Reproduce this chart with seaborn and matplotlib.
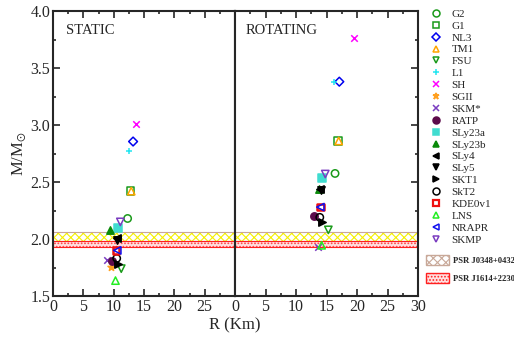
import numpy as np
import pandas as pd
import seaborn as sns
import matplotlib.pyplot as plt
from matplotlib.lines import Line2D
from matplotlib.patches import Patch

# data
models = ['G2', 'G1', 'NL3', 'TM1', 'FSU', 'L1', 'SH', 'SGII', 'SKM*', 'RATP',
          'SLy23a', 'SLy23b', 'SLy4', 'SLy5', 'SKT1', 'SkT2', 'KDE0v1', 'LNS',
          'NRAPR', 'SKMP']
static_R = [12.3, 12.8, 13.2, 12.9, 11.25, 12.5, 13.6, 9.5, 8.95, 9.7,
            10.65, 9.45, 10.5, 10.6, 10.7, 10.5, 10.4, 10.3, 10.6, 11.1]
static_M = [2.18, 2.42, 2.855, 2.42, 1.74, 2.77, 3.01, 1.755, 1.815, 1.805,
            2.10, 2.08, 2.01, 1.99, 1.785, 1.83, 1.90, 1.635, 1.90, 2.15]
rot_R = [16.4, 16.9, 17.1, 17.0, 15.3, 16.3, 19.5, np.nan, 13.6, 13.0,
         14.2, 13.8, 14.0, 14.1, 14.2, 13.9, 14.0, 14.2, 14.0, 14.8]
rot_M = [2.575, 2.86, 3.38, 2.86, 2.08, 3.38, 3.76, np.nan, 1.93, 2.20,
         2.535, 2.44, 2.44, 2.43, 2.15, 2.19, 2.28, 1.945, 2.28, 2.57]
psr_names = ['PSR J0348+0432', 'PSR J1614+2230']
psr_lo = [1.98, 1.93]
psr_hi = [2.06, 1.98]

# styles
colors = ['#1a9a1a', '#1a9a1a', '#0000ee', '#ffa500', '#1a9a1a', '#22e5f0',
          '#ff00ff', '#ffa020', '#7a3cc0', '#5c0a4a', '#40dcd0', '#0a8a0a',
          'black', 'black', 'black', 'black', '#ee1010', '#22ee22', '#1010ee',
          '#7a3cc0']
markers = ['o', 's', 'D', '^', 'v', '+', 'x', '*', 'x', 'o', 's', '^', '<', 'v',
           '>', 'o', 's', '^', '<', 'v']
is_open = [True, True, True, True, True, False, False, False, False, False,
           False, False, False, False, False, True, True, True, True, True]

df = pd.concat([
    pd.DataFrame({'model': models, 'R': static_R, 'M': static_M, 'panel': 'static'}),
    pd.DataFrame({'model': models, 'R': rot_R, 'M': rot_M, 'panel': 'rot'}),
]).dropna()

sns.set_style('ticks')
plt.rcParams['font.family'] = ['Liberation Serif', 'DejaVu Serif']
plt.rcParams['mathtext.fontset'] = 'stix'
plt.rcParams['hatch.linewidth'] = 0.8

fig = plt.figure(figsize=(5.14, 3.38), dpi=100)
axL = fig.add_axes([53 / 514, 1 - 296 / 338, 182 / 514, 285 / 338])
axR = fig.add_axes([235 / 514, 1 - 296 / 338, 183 / 514, 285 / 338])

band_style = [dict(fc='white', hc='#f5f000', ec='#c8a898', hatch='xxxx'),
              dict(fc='#ffe0e0', hc='#ff4040', ec='#ff2020', hatch='.....')]

for ax, panel in [(axL, 'static'), (axR, 'rot')]:
    for lo, hi, st in zip(psr_lo, psr_hi, band_style):
        ax.axhspan(lo, hi, facecolor=st['fc'], edgecolor=st['hc'], hatch=st['hatch'],
                   linewidth=0, zorder=1)
        ax.axhspan(lo, hi, fill=False, edgecolor=st['ec'], linewidth=0.8, zorder=1)
    sub = df[df.panel == panel]
    for i, name in enumerate(models):
        row = sub[sub.model == name]
        if row.empty:
            continue
        c = colors[i]
        kw = dict(marker=markers[i], color=c, edgecolor=c, s=28, linewidth=1.1, zorder=3)
        if is_open[i]:
            kw['facecolor'] = 'none'
        if name == 'KDE0v1':
            kw['linewidth'] = 1.8
            kw['s'] = 22
        if markers[i] == 'D':
            kw['s'] = 20
        if markers[i] in ('x', '+'):
            kw['s'] = 22
        sns.scatterplot(data=row, x='R', y='M', ax=ax, legend=False, **kw)

    ax.set_xlim(0, 30)
    ax.set_ylim(1.5, 4)
    ax.set_xticks([0, 5, 10, 15, 20, 25, 30])
    ax.set_xticks(np.arange(2.5, 30, 5), minor=True)
    ax.set_yticks(np.arange(1.5, 4.01, 0.5))
    ax.set_yticks(np.arange(1.75, 4, 0.5), minor=True)
    ax.set_xlabel('')
    ax.set_ylabel('')
    for s in ax.spines.values():
        s.set_linewidth(1.5)
        s.set_visible(True)
    ax.tick_params(which='both', direction='in', width=1.2, labelsize=11.5,
                   top=True, bottom=True, pad=2)
    ax.tick_params(which='major', length=5)
    ax.tick_params(which='minor', length=2.5)

axL.tick_params(which='both', left=True, right=False)
axL.set_xticklabels(['0', '5', '10', '15', '20', '25', ''])
axR.tick_params(which='both', left=False, right=True, labelleft=False)
axL.text(2.2, 3.8, 'STATIC', fontsize=10.5)
axR.text(1.7, 3.8, 'ROTATING', fontsize=10.5)
axL.set_ylabel(r'M/M$_{\odot}$', fontsize=12, labelpad=2)
fig.text(235 / 514, 1 - 325 / 338, 'R (Km)', ha='center', va='center', fontsize=12)

handles = []
for i, name in enumerate(models):
    c = colors[i]
    handles.append(Line2D([], [], linestyle='none', marker=markers[i], color=c,
                          markerfacecolor='none' if is_open[i] else c,
                          markeredgecolor=c,
                          markersize=4 if markers[i] == 'D' else 5,
                          markeredgewidth=1.6 if name == 'KDE0v1' else 1.1))
leg = fig.legend(handles, models, loc='upper left', bbox_to_anchor=(427 / 514, 1 - 9 / 338),
                 frameon=False, fontsize=8, labelspacing=0.19, handletextpad=0.6,
                 handlelength=1.6, borderpad=0, borderaxespad=0)

psr_handles = []
for st in band_style:
    psr_handles.append(Patch(facecolor=st['fc'], edgecolor=st['ec'], hatch=st['hatch'],
                             linewidth=1))
leg2 = fig.legend(psr_handles, psr_names, loc='upper left',
                  bbox_to_anchor=(426 / 514, 1 - 255 / 338), frameon=False,
                  prop={'size': 6.2, 'weight': 'bold'}, labelspacing=0.9,
                  handlelength=2.7, handleheight=1.4, handletextpad=0.45,
                  borderpad=0, borderaxespad=0)

fig.savefig('out.png', dpi=100)
